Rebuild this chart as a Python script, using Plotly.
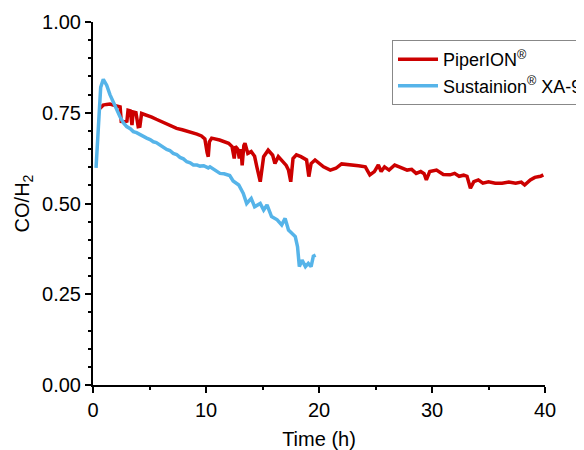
import plotly.graph_objects as go

# PiperION series: time (h), CO/H2
piperion_t = [0.6, 0.9, 1.2, 1.5, 1.8, 2.1, 2.4, 2.5, 2.8, 3.0, 3.1, 3.3, 3.45, 3.55, 3.8, 4.0, 4.15, 4.3,
              4.75, 5.2, 5.6, 6.0, 6.5, 7.0, 7.4, 7.9, 8.3, 8.8, 9.2, 9.6, 9.9, 10.1, 10.2, 10.3, 10.5,
              11.2, 12.0, 12.3, 12.5, 12.6, 12.8, 12.95, 13.1, 13.2, 13.35, 13.45, 13.7, 14.0, 14.3,
              14.5, 14.8, 15.1, 15.3, 15.5, 15.9, 16.1, 16.4, 16.8, 17.1, 17.3, 17.5, 17.7, 18.0, 18.4,
              18.9, 19.1, 19.3, 19.65, 20.0, 20.4, 21.0, 21.5, 22.0, 22.5, 23.0, 23.5, 24.1, 24.3, 24.5,
              24.9, 25.25, 25.5, 25.8, 26.2, 26.7, 27.1, 27.8, 28.2, 28.6, 29.0, 29.3, 29.5, 29.8, 30.4,
              31.0, 31.6, 32.0, 32.4, 32.8, 33.1, 33.4, 33.7, 34.1, 34.5, 35.0, 35.6, 36.2, 36.8, 37.4,
              37.9, 38.2, 38.7, 39.1, 39.6, 39.85]
piperion_v = [0.762, 0.771, 0.773, 0.774, 0.771, 0.768, 0.766, 0.726, 0.725, 0.727, 0.757, 0.755, 0.716,
              0.752, 0.750, 0.712, 0.713, 0.748, 0.744, 0.738, 0.732, 0.726, 0.719, 0.712, 0.707, 0.703,
              0.700, 0.695, 0.691, 0.686, 0.678, 0.640, 0.629, 0.670, 0.680, 0.675, 0.666, 0.657, 0.624,
              0.657, 0.650, 0.624, 0.650, 0.605, 0.660, 0.666, 0.638, 0.643, 0.630, 0.601, 0.560, 0.629,
              0.640, 0.647, 0.633, 0.610, 0.629, 0.615, 0.605, 0.592, 0.560, 0.624, 0.634, 0.629, 0.620,
              0.574, 0.610, 0.620, 0.610, 0.601, 0.592, 0.597, 0.609, 0.608, 0.606, 0.604, 0.601, 0.592,
              0.579, 0.588, 0.606, 0.588, 0.601, 0.592, 0.606, 0.601, 0.592, 0.594, 0.583, 0.588, 0.582,
              0.565, 0.588, 0.592, 0.580, 0.579, 0.583, 0.575, 0.578, 0.575, 0.542, 0.560, 0.565, 0.556,
              0.560, 0.556, 0.556, 0.559, 0.556, 0.559, 0.551, 0.565, 0.572, 0.575, 0.579]

# Sustainion XA-9 series: time (h), CO/H2
sustainion_t = [0.27, 0.47, 0.68, 0.91, 1.21, 1.5, 1.95, 2.39, 2.7, 2.98, 3.3, 3.57, 3.85, 4.16, 4.45, 4.75,
                5.05, 5.34, 5.6, 5.93, 6.2, 6.52, 6.8, 7.1, 7.4, 7.7, 8.0, 8.3, 8.6, 8.88, 9.2, 9.47, 9.8,
                10.2, 10.35, 10.8, 11.24, 11.6, 12.1, 12.4, 12.9, 13.3, 13.6, 14.0, 14.3, 14.8, 15.1, 15.4,
                15.8, 16.3, 16.7, 17.0, 17.3, 17.9, 18.1, 18.26, 18.5, 18.8, 19.05, 19.3, 19.5, 19.7]
sustainion_v = [0.598, 0.730, 0.820, 0.842, 0.826, 0.800, 0.767, 0.739, 0.722, 0.712, 0.706, 0.698, 0.695,
                0.689, 0.686, 0.680, 0.676, 0.670, 0.668, 0.661, 0.657, 0.649, 0.646, 0.638, 0.635, 0.627,
                0.623, 0.615, 0.612, 0.606, 0.606, 0.603, 0.604, 0.598, 0.601, 0.592, 0.583, 0.582, 0.577,
                0.562, 0.551, 0.528, 0.500, 0.514, 0.491, 0.500, 0.482, 0.496, 0.464, 0.455, 0.441, 0.459,
                0.427, 0.409, 0.381, 0.326, 0.344, 0.326, 0.335, 0.326, 0.355, 0.358]

series_names = ["PiperION<sup>®</sup>", "Sustainion<sup>®</sup> XA-9"]
x_ticks = [0, 10, 20, 30, 40]
y_ticks = [0.00, 0.25, 0.50, 0.75, 1.00]
y_tick_labels = ["0.00", "0.25", "0.50", "0.75", "1.00"]

FONT = "Arial, 'Liberation Sans', sans-serif"

fig = go.Figure()
fig.add_trace(go.Scatter(x=piperion_t, y=piperion_v, mode="lines", name=series_names[0],
                         line=dict(color="#CC0000", width=3.5)))
fig.add_trace(go.Scatter(x=sustainion_t, y=sustainion_v, mode="lines", name=series_names[1],
                         line=dict(color="#56B4E9", width=3.5)))

axis_common = dict(showline=True, linecolor="black", linewidth=2, ticks="outside",
                   tickcolor="black", tickwidth=2, ticklen=6, showgrid=False, zeroline=False,
                   mirror=False, tickfont=dict(family=FONT, size=20, color="black"))

fig.update_xaxes(range=[0, 40], tickvals=x_ticks,
                 title=dict(text="Time (h)", font=dict(family=FONT, size=20, color="black"), standoff=12),
                 minor=dict(dtick=5, ticks="outside", ticklen=3, tickwidth=2, tickcolor="black"),
                 **axis_common)
fig.update_yaxes(range=[0, 1], tickvals=y_ticks, ticktext=y_tick_labels,
                 title=dict(text="CO/H<sub>2</sub>", font=dict(family=FONT, size=20, color="black"), standoff=7),
                 minor=dict(dtick=0.05, ticks="outside", ticklen=3, tickwidth=2, tickcolor="black"),
                 **axis_common)

fig.update_layout(
    width=584, height=450,
    margin=dict(l=85, r=47, t=14, b=73, autoexpand=False),
    plot_bgcolor="white", paper_bgcolor="white",
    font=dict(family=FONT, color="black"),
    legend=dict(x=0.6615, y=0.95, xanchor="left", yanchor="top",
                bgcolor="white", bordercolor="#888888", borderwidth=1,
                font=dict(family=FONT, size=18, color="black"),
                tracegroupgap=0, itemwidth=40),
    showlegend=True,
)

fig.write_html("out.html")
